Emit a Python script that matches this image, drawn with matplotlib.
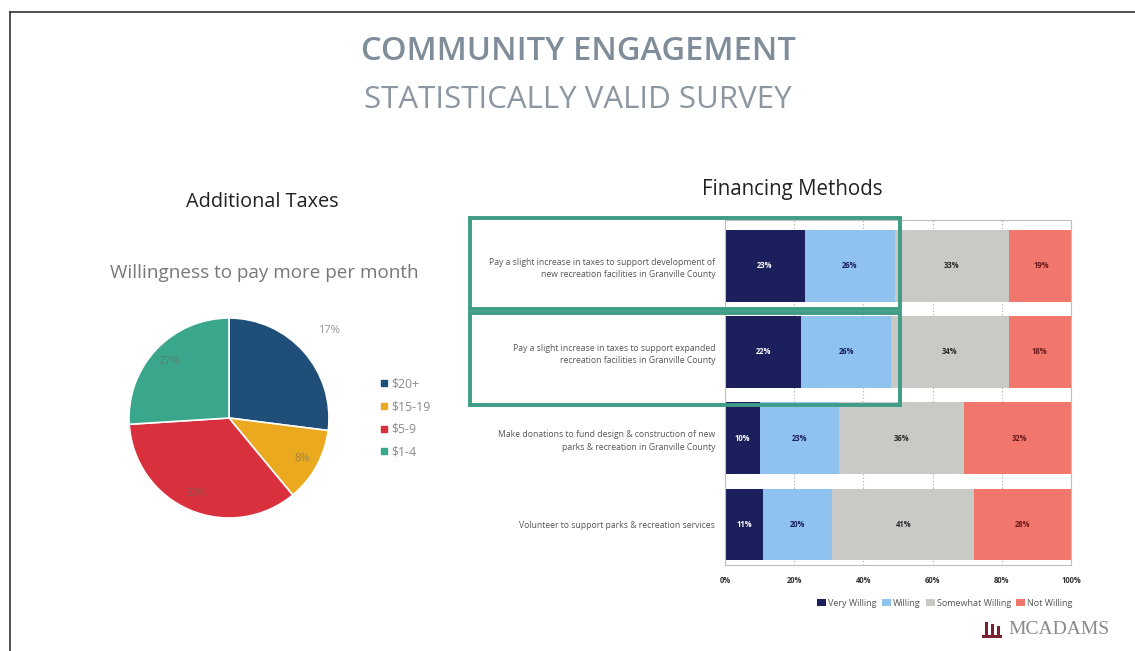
import matplotlib.pyplot as plt
from matplotlib.patches import Rectangle
from matplotlib.lines import Line2D
import numpy as np

W, H = 1135, 651

# pie data
pie_labels = ["$20+", "$15-19", "$5-9", "$1-4"]
pie_values = [27, 12, 35, 26]
pie_text = ["17%", "8%", "33%", "27%"]
pie_colors = ["#1f4e79", "#eaa91e", "#d8303c", "#3aa68b"]

# financing methods data
methods = [
    "Pay a slight increase in taxes to support development of\nnew recreation facilities in Granville County",
    "Pay a slight increase in taxes to support expanded\nrecreation facilities in Granville County",
    "Make donations to fund design & construction of new\nparks & recreation in Granville County",
    "Volunteer to support parks & recreation services",
]
levels = ["Very Willing", "Willing", "Somewhat Willing", "Not Willing"]
very_willing = [23, 22, 10, 11]
willing = [26, 26, 23, 20]
somewhat = [33, 34, 36, 41]
not_willing = [19, 18, 32, 28]
bar_colors = ["#1b1f5c", "#8fc2ef", "#c9cac5", "#f1766c"]
text_colors = ["white", "#1b1f5c", "#2a2a2a", "#6a1a1a"]
xticks = [0, 20, 40, 60, 80, 100]

plt.rcParams["font.family"] = ["Open Sans", "DejaVu Sans"]

fig = plt.figure(figsize=(W / 100, H / 100), dpi=100)


def box(x0, y0, x1, y1):
    return [x0 / W, 1 - y1 / H, (x1 - x0) / W, (y1 - y0) / H]


# slide frame
fig.add_artist(Line2D([10 / W, 1], [1 - 12 / H, 1 - 12 / H], color="#333333", lw=1.2))
fig.add_artist(Line2D([10 / W, 10 / W], [0, 1 - 12 / H], color="#333333", lw=1.2))

# titles
fig.text(578 / W, 1 - 52 / H, "COMMUNITY ENGAGEMENT", ha="center", va="center",
         fontsize=23.5, fontweight="semibold", color="#7f8d9a")
fig.text(578 / W, 1 - 100 / H, "STATISTICALLY VALID SURVEY", ha="center", va="center",
         fontsize=22.5, color="#8c97a2")
fig.text(262 / W, 1 - 202 / H, "Additional Taxes", ha="center", va="center",
         fontsize=14.3, color="#222222")
fig.text(264 / W, 1 - 273 / H, "Willingness to pay more per month", ha="center",
         va="center", fontsize=13.6, color="#777777")
fig.text(792 / W, 1 - 190 / H, "Financing Methods", ha="center", va="center",
         fontsize=14.8, color="#222222")

# pie
ax_pie = fig.add_axes(box(129, 318, 329, 518))
wedges, _ = ax_pie.pie(pie_values, colors=pie_colors, startangle=90, counterclock=False,
                       wedgeprops=dict(edgecolor="white", linewidth=1.2))
ax_pie.set_xlim(-1, 1)
ax_pie.set_ylim(-1, 1)
ax_pie.set_aspect("equal")
label_r = [1.33, 0.84, 0.82, 0.82]
for w, txt, r, i in zip(wedges, pie_text, label_r, range(4)):
    ang = np.deg2rad((w.theta1 + w.theta2) / 2)
    ax_pie.text(r * np.cos(ang), r * np.sin(ang), txt, ha="center", va="center",
                fontsize=8, color="#888888" if i == 0 else "#6b6b5a",
                alpha=0.9 if i == 0 else 0.6, clip_on=False)

handles = [Line2D([], [], marker="s", ls="", color=c, markersize=5) for c in pie_colors]
leg = fig.legend(handles, pie_labels, loc="center left", bbox_to_anchor=(368 / W, 1 - 418 / H),
                 frameon=False, fontsize=8.8, handletextpad=0.2, labelspacing=0.8,
                 handlelength=0.8)
for t in leg.get_texts():
    t.set_color("#8a8a8a")

# stacked bars
ax = fig.add_axes(box(725, 220, 1071, 565))
y = np.arange(len(methods))
left = np.zeros(len(methods))
for vals, name, col, tc in zip([very_willing, willing, somewhat, not_willing], levels,
                               bar_colors, text_colors):
    vals = np.array(vals, dtype=float)
    bars = ax.barh(y, vals, left=left, height=0.83, color=col, label=name, zorder=2)
    for b, v in zip(bars, vals):
        ax.text(b.get_x() + b.get_width() / 2, b.get_y() + b.get_height() / 2, f"{int(v)}%",
                ha="center", va="center", fontsize=5.5, fontweight="bold", color=tc, zorder=3)
    left += vals
ax.set_xlim(0, 100)
ax.set_ylim(3.47, -0.53)
ax.set_xticks(xticks)
ax.set_xticklabels([f"{t}%" for t in xticks], fontsize=5.5, fontweight="bold", color="#333333")
ax.tick_params(axis="both", length=0, pad=8)
ax.set_yticks(y)
ax.set_yticklabels(methods, fontsize=6.2, color="#555555", ha="right", linespacing=1.5)
ax.tick_params(axis="y", pad=7)
ax.grid(axis="x", ls=(0, (1, 2)), color="#aaaaaa", lw=0.8, zorder=0)
for s in ax.spines.values():
    s.set_color("#c0c0c0")
    s.set_linewidth(0.8)

bleg = fig.legend(loc="center", bbox_to_anchor=(945 / W, 1 - 603 / H), ncol=4, frameon=False,
                  fontsize=6.5, handlelength=1.0, handleheight=0.8, handletextpad=0.2,
                  columnspacing=0.6)
for t in bleg.get_texts():
    t.set_color("#555555")

# highlight boxes
for y0, y1 in [(218, 309), (313, 405)]:
    fig.add_artist(Rectangle((470 / W, 1 - y1 / H), 430 / W, (y1 - y0) / H,
                             fill=False, edgecolor="#3f9c86", lw=2.8))

# logo
for k, xx in enumerate([985, 991, 997]):
    fig.add_artist(Rectangle((xx / W, 1 - 636 / H), 3 / W, (14 - k * 2) / H,
                             color="#7a2030", lw=0))
fig.add_artist(Rectangle((982 / W, 1 - 638 / H), 20 / W, 3 / H, color="#7a2030", lw=0))
fig.text(1008 / W, 1 - 630 / H, "MCADAMS", ha="left", va="center", fontsize=14,
         family="Liberation Serif", color="#8a8a8a")

fig.savefig("out.png", dpi=100)
